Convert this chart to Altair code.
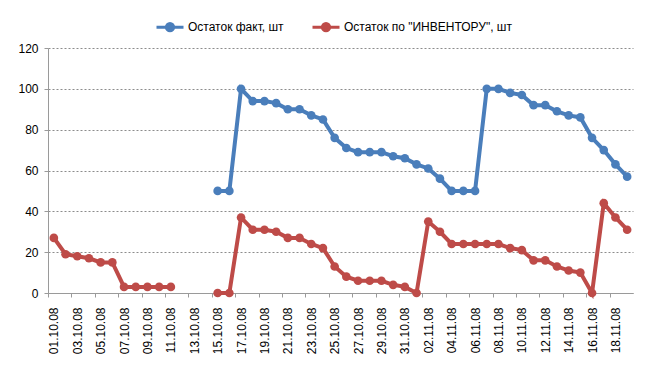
import altair as alt
import pandas as pd

dates = [f"{d:02d}.10.08" for d in range(1, 32)] + [f"{d:02d}.11.08" for d in range(1, 20)]

series_names = ["Остаток факт, шт", 'Остаток по "ИНВЕНТОРУ", шт']
series_colors = ["#4A7EBB", "#BE4B48"]

fact = [None] * 14 + [
    50, 50, 100, 94, 94, 93, 90, 90, 87, 85, 76, 71, 69, 69, 69, 67, 66,
    63, 61, 56, 50, 50, 50, 100, 100, 98, 97, 92, 92, 89, 87, 86, 76, 70, 63, 57,
]
inventory = [
    27, 19, 18, 17, 15, 15, 3, 3, 3, 3, 3, None, None, None,
    0, 0, 37, 31, 31, 30, 27, 27, 24, 22, 13, 8, 6, 6, 6, 4, 3,
    0, 35, 30, 24, 24, 24, 24, 24, 22, 21, 16, 16, 13, 11, 10, 0, 44, 37, 31,
]

y_ticks = [0, 20, 40, 60, 80, 100, 120]
x_tick_values = list(range(0, 51, 2))

rows = []
for name, vals in zip(series_names, [fact, inventory]):
    seg = 0
    prev = None
    for i, v in enumerate(vals):
        if v is None:
            if prev is not None:
                seg += 1
            prev = None
            continue
        rows.append(dict(idx=i, date=dates[i], value=v, series=name, seg=f"{name}-{seg}"))
        prev = v
df = pd.DataFrame(rows)

label_expr = "[" + ",".join(f"'{d}'" for d in dates) + "][datum.value] || ''"

n = len(dates)
plot_w, plot_h = 585, 245
half_band = plot_w / n / 2

legend_path = "M-1,0H1M-0.27,0A0.27,0.27,0,1,1,0.27,0A0.27,0.27,0,1,1,-0.27,0Z"

chart = alt.Chart(df).mark_line(
    strokeWidth=4,
    point=alt.OverlayMarkDef(filled=True, size=75),
).encode(
    x=alt.X(
        "idx:Q",
        scale=alt.Scale(domain=[-0.5, n - 0.5], nice=False, zero=False),
        axis=alt.Axis(
            values=x_tick_values,
            labelExpr=label_expr,
            tickOffset=-half_band,
            labelOffset=half_band,
            labelAngle=-90,
            labelPadding=10,
            labelFontSize=12,
            labelColor="#000000",
            tickSize=4,
            tickColor="#9a9a9a",
            domainColor="#9a9a9a",
            grid=False,
            title=None,
            labelOverlap=False,
        ),
    ),
    y=alt.Y(
        "value:Q",
        scale=alt.Scale(domain=[0, 120], nice=False),
        axis=alt.Axis(
            values=y_ticks,
            grid=True,
            gridDash=[2, 2],
            gridColor="#8c8c8c",
            domainColor="#9a9a9a",
            tickColor="#9a9a9a",
            tickSize=4,
            labelPadding=6,
            labelFontSize=12,
            labelColor="#000000",
            title=None,
        ),
    ),
    color=alt.Color(
        "series:N",
        scale=alt.Scale(domain=series_names, range=series_colors),
        legend=alt.Legend(
            title=None,
            orient="none",
            legendX=107,
            legendY=-36,
            direction="horizontal",
            symbolType=legend_path,
            symbolSize=729,
            symbolStrokeWidth=3,
            labelFontSize=12,
            labelColor="#000000",
            labelLimit=400,
            columnPadding=22,
            labelOffset=3,
        ),
    ),
    detail="seg:N",
).properties(
    width=plot_w,
    height=plot_h,
    autosize=alt.AutoSizeParams(type="none"),
    padding={"left": 40, "top": 40, "right": 7, "bottom": 67},
).configure(
    font="Liberation Sans",
).configure_view(
    stroke=None,
)

chart.save("out.html", embed_options={"renderer": "svg", "actions": False})
